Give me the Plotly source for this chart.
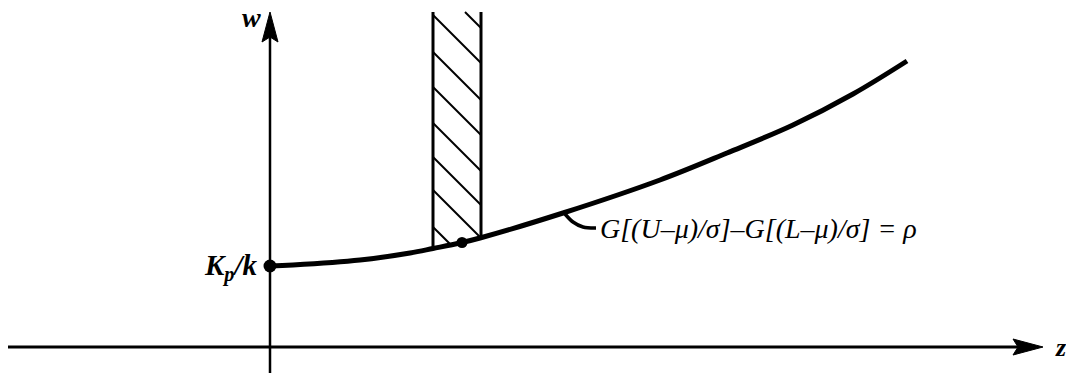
import numpy as np
import plotly.graph_objects as go

# curve w(z) (axis origin = 0, 100 px per unit)
curve_z = [0.0, 0.23, 0.90, 1.40, 1.63, 1.90, 2.10, 2.93, 3.90, 4.57, 5.23, 5.83, 6.37]
curve_w = [0.81, 0.82, 0.87, 0.94, 0.985, 1.04, 1.09, 1.34, 1.67, 1.94, 2.22, 2.53, 2.86]

# feasible strip
strip_left = 1.63
strip_right = 2.11
strip_top = 3.35
hatch_starts = [3.67, 3.32, 2.95, 2.60, 2.24, 1.90, 1.57, 1.20]  # w on the left edge

# marked points
kp_point = (0.0, 0.81)
opt_point = (1.92, 1.045)

# leader from the curve to its label
leader_z = [2.95, 3.03, 3.13, 3.26]
leader_w = [1.33, 1.25, 1.20, 1.19]

# axis extents
z_min, z_tip = -2.62, 7.73
w_min, w_tip = -0.30, 3.35
head_len, head_half, notch = 0.30, 0.08, 0.05

fig = go.Figure()

def line(x, y, width, shape="linear"):
    fig.add_trace(go.Scatter(x=x, y=y, mode="lines", hoverinfo="skip",
                             line=dict(color="black", width=width, shape=shape),
                             showlegend=False))

def head(x, y):
    fig.add_trace(go.Scatter(x=x, y=y, mode="lines", fill="toself", fillcolor="black",
                             line=dict(color="black", width=1), hoverinfo="skip",
                             showlegend=False))

# axes
line([z_min, z_tip - head_len + notch], [0, 0], 3)
line([0, 0], [w_min, w_tip - head_len + notch], 2.5)
head([z_tip, z_tip - head_len, z_tip - head_len + notch, z_tip - head_len, z_tip],
     [0, head_half, 0, -head_half, 0])
head([0, head_half, 0, -head_half, 0],
     [w_tip, w_tip - head_len, w_tip - head_len + notch, w_tip - head_len, w_tip])

# strip edges
cz = np.array(curve_z)
cw = np.array(curve_w)
line([strip_left, strip_left], [strip_top, np.interp(strip_left, cz, cw)], 3)
line([strip_right, strip_right], [strip_top, np.interp(strip_right, cz, cw)], 3)

# hatching, clipped to the strip between its top and the curve
zs = np.linspace(strip_left, strip_right, 400)
for w0 in hatch_starts:
    ws = w0 - (zs - strip_left)
    ok = (ws <= strip_top) & (ws >= np.interp(zs, cz, cw))
    if ok.any():
        line(zs[ok][[0, -1]], ws[ok][[0, -1]], 2)

# curve and leader
line(curve_z, curve_w, 5, "spline")
line(leader_z, leader_w, 3.5, "spline")

fig.add_trace(go.Scatter(x=[kp_point[0], opt_point[0]], y=[kp_point[1], opt_point[1]],
                         mode="markers",
                         marker=dict(color="black", size=[13, 11], opacity=1,
                                     line=dict(color="black", width=0)),
                         hoverinfo="skip", showlegend=False))

serif = "Liberation Serif"
fig.add_annotation(x=-0.10, y=0.80, text="<b><i>K<sub>p</sub>/k</i></b>", showarrow=False,
                   xanchor="right", yanchor="middle", font=dict(family=serif, size=29, color="black"))
fig.add_annotation(x=-0.19, y=3.30, text="<b><i>w</i></b>", showarrow=False,
                   xanchor="center", yanchor="middle", font=dict(family=serif, size=28, color="black"))
fig.add_annotation(x=7.905, y=0.0, text="<b><i>z</i></b>", showarrow=False,
                   xanchor="center", yanchor="middle", font=dict(family=serif, size=26, color="black"))
fig.add_annotation(x=3.28, y=1.19, text="<i>G[(U–μ)/σ]–G[(L–μ)/σ] = ρ</i>", showarrow=False,
                   xanchor="left", yanchor="middle", font=dict(family=serif, size=28, color="black"))

fig.update_layout(
    width=1066, height=373,
    margin=dict(l=0, r=0, t=0, b=0),
    plot_bgcolor="white", paper_bgcolor="white",
    xaxis=dict(range=[-2.70, 7.96], visible=False, fixedrange=True),
    yaxis=dict(range=[-0.26, 3.47], visible=False, fixedrange=True),
)

# drop the page's default body margin so the figure fills the window exactly
fig.write_html("out.html", config={"displayModeBar": False},
               post_script="document.body.style.margin='0';document.body.style.overflow='hidden';")
